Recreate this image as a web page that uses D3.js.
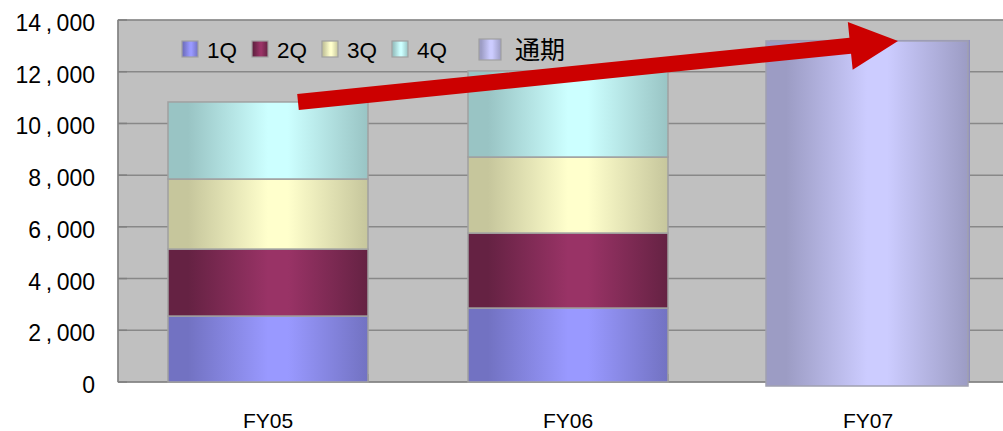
<!DOCTYPE html>
<html>
<head>
<meta charset="utf-8">
<script src="https://cdn.jsdelivr.net/npm/d3@7"></script>
<style>
  body { margin: 0; background: #fff; }
  text { font-family: "Liberation Sans", Arial, sans-serif; fill: #000; }
</style>
</head>
<body>
<svg id="chart" width="1003" height="431"></svg>
<script>
const CATEGORIES = ['FY05', 'FY06', 'FY07'];
const QUARTERS = ['1Q', '2Q', '3Q', '4Q'];
const Q1 = [2550, 2860, 0];
const Q2 = [2590, 2900, 0];
const Q3 = [2710, 2940, 0];
const Q4 = [2980, 3330, 0];
const FULL_YEAR = [0, 0, 13190];
const FULL_YEAR_LABEL = '通期';
const Y_TICKS = [0, 2000, 4000, 6000, 8000, 10000, 12000, 14000];

// [dark edge, light centre]
const COLOURS = {
    '1Q': ['#7272c2', '#9999ff'],
    '2Q': ['#652243', '#993366'],
    '3Q': ['#c6c69c', '#ffffcc'],
    '4Q': ['#99c4c4', '#ccffff'],
    [FULL_YEAR_LABEL]: ['#9c9cc4', '#ccccff']
};

const svg = d3.select('#chart');
const margin = { left: 118, top: 20, right: -15, bottom: 49 };
const width = 1003 - margin.left - margin.right;
const height = 431 - margin.top - margin.bottom;

const x = d3.scaleBand().domain(CATEGORIES).range([0, width]).paddingInner(1 / 3).paddingOuter(1 / 6);
const y = d3.scaleLinear().domain([0, 14000]).range([height, 0]);
const step = x.step();

const defs = svg.append('defs');
Object.keys(COLOURS).forEach((key, i) => {
    const [dark, light] = COLOURS[key];
    const grad = defs.append('linearGradient').attr('id', 'grad' + i)
        .attr('x1', '0%').attr('x2', '100%').attr('y1', '0%').attr('y2', '0%');
    [[0, dark], [0.1, dark], [0.5, light], [0.6, light], [1, dark]].forEach(([o, c]) => {
        grad.append('stop').attr('offset', o).attr('stop-color', c);
    });
});
const gradId = key => 'url(#grad' + Object.keys(COLOURS).indexOf(key) + ')';

const g = svg.append('g').attr('transform', `translate(${margin.left},${margin.top})`);

g.append('rect')
    .attr('width', width).attr('height', height)
    .attr('fill', '#c0c0c0').attr('stroke', '#999').attr('stroke-width', 1);

// gridlines
g.selectAll('.grid').data(Y_TICKS.slice(1)).enter().append('line')
    .attr('x1', 0).attr('x2', width)
    .attr('y1', d => y(d)).attr('y2', d => y(d))
    .attr('stroke', '#888').attr('stroke-width', 1.5);

// y axis
const yFmt = d => d3.format(',')(d).replace(',', '\u2009,\u2009');
g.append('line').attr('x1', 0).attr('x2', 0).attr('y1', 0).attr('y2', height)
    .attr('stroke', '#808080').attr('stroke-width', 1.5);
g.selectAll('.ytick').data(Y_TICKS).enter().append('line')
    .attr('x1', 0).attr('x2', 9).attr('y1', d => y(d)).attr('y2', d => y(d))
    .attr('stroke', '#808080').attr('stroke-width', 1.5);
g.selectAll('.ylab').data(Y_TICKS).enter().append('text')
    .attr('x', -23).attr('y', d => y(d) + 11)
    .attr('text-anchor', 'end')
    .style('font-size', '23px').style('white-space', 'pre')
    .text(yFmt);

// x axis
g.append('line').attr('x1', 0).attr('x2', width).attr('y1', height).attr('y2', height)
    .attr('stroke', '#808080').attr('stroke-width', 1.5);
g.selectAll('.xtick').data(CATEGORIES).enter().append('line')
    .attr('x1', d => x(d) - step * x.paddingOuter() * 2 + step).attr('x2', d => x(d) - step * x.paddingOuter() * 2 + step)
    .attr('y1', height).attr('y2', height - 8)
    .attr('stroke', '#808080').attr('stroke-width', 1.5);
g.selectAll('.xlab').data(CATEGORIES).enter().append('text')
    .attr('x', d => x(d) + x.bandwidth() / 2).attr('y', height + 46)
    .attr('text-anchor', 'middle').style('font-size', '21px')
    .text(d => d);

// stacked bars
const rows = CATEGORIES.map((c, i) => ({ cat: c, '1Q': Q1[i], '2Q': Q2[i], '3Q': Q3[i], '4Q': Q4[i] }));
const stack = d3.stack().keys(QUARTERS)(rows);
stack.forEach(layer => {
    g.selectAll('.bar-' + layer.key).data(layer.filter(d => d[1] > d[0])).enter().append('rect')
        .attr('x', d => x(d.data.cat))
        .attr('y', d => y(d[1]))
        .attr('width', x.bandwidth())
        .attr('height', d => y(d[0]) - y(d[1]))
        .attr('fill', gradId(layer.key))
        .attr('stroke', '#a0a0a0').attr('stroke-width', 1.5);
});

// full-year bars
const fy = CATEGORIES.map((c, i) => ({ cat: c, v: FULL_YEAR[i] })).filter(d => d.v > 0);
g.selectAll('.fyshadow').data(fy).enter().append('rect')
    .attr('x', d => x(d.cat) + 2).attr('y', d => y(d.v) - 1)
    .attr('width', x.bandwidth()).attr('height', d => y(0) - y(d.v))
    .attr('fill', '#8f8fc0');
g.selectAll('.fybar').data(fy).enter().append('rect')
    .attr('x', d => x(d.cat) - 2).attr('y', d => y(d.v))
    .attr('width', x.bandwidth() + 2).attr('height', d => y(0) - y(d.v) + 4)
    .attr('fill', gradId(FULL_YEAR_LABEL))
    .attr('stroke', '#a0a0b0').attr('stroke-width', 1.5);

// legend
const legendItems = QUARTERS.concat([FULL_YEAR_LABEL]);
const legendX = [64, 134, 204, 274, 361];
const legend = g.append('g').attr('transform', 'translate(0,21)');
legendItems.forEach((key, i) => {
    const big = key === FULL_YEAR_LABEL;
    const s = big ? 21 : 16;
    legend.append('rect')
        .attr('x', legendX[i]).attr('y', big ? -2 : 0)
        .attr('width', big ? 22 : s).attr('height', s)
        .attr('fill', gradId(key)).attr('stroke', '#a0a0a0').attr('stroke-width', 1.2);
    legend.append('text')
        .attr('x', legendX[i] + (big ? 36 : 25)).attr('y', big ? 18 : 16.5)
        .style('font-size', big ? '25px' : '22.5px')
        .style('font-family', big ? '"Noto Sans CJK JP", sans-serif' : null)
        .text(key);
});

// growth arrow from FY05 total to FY07 total
const total05 = Q1[0] + Q2[0] + Q3[0] + Q4[0];
const x0 = x(CATEGORIES[0]) - step * x.paddingOuter() + step * 0.6;
const x1 = x(CATEGORIES[2]) - step * x.paddingOuter() + step * 0.6;
const p0 = [x0, y(total05)];
const p1 = [x1, y(FULL_YEAR[2])];
const ang = Math.atan2(p1[1] - p0[1], p1[0] - p0[0]);
const headLen = 48, headHalf = 24, shaft = 8;
const ux = Math.cos(ang), uy = Math.sin(ang), nx = -uy, ny = ux;
const bx = p1[0] - ux * headLen, by = p1[1] - uy * headLen;
const pts = [
    [p0[0] + nx * shaft, p0[1] + ny * shaft],
    [bx + nx * shaft, by + ny * shaft],
    [bx + nx * headHalf, by + ny * headHalf],
    p1,
    [bx - nx * headHalf, by - ny * headHalf],
    [bx - nx * shaft, by - ny * shaft],
    [p0[0] - nx * shaft, p0[1] - ny * shaft]
];
g.append('path').attr('d', d3.line()(pts) + 'Z').attr('fill', '#cc0000');
</script>
</body>
</html>
